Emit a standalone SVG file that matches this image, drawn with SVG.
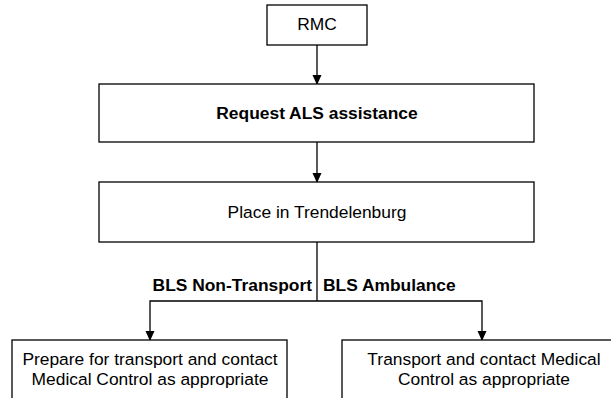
<svg xmlns="http://www.w3.org/2000/svg" width="611" height="398" viewBox="0 0 611 398">
<defs>
<marker id="arr" markerWidth="10" markerHeight="12" refX="10" refY="5" orient="auto" markerUnits="userSpaceOnUse" viewBox="0 0 11 10">
<path d="M0,0 L11,5 L0,10 Z" fill="#000"/>
</marker>
</defs>
<style>
.box{fill:#fff;stroke:#000;stroke-width:1.3}
.t{font-family:"Liberation Sans",Arial,sans-serif;font-size:17.4px;fill:#000;text-anchor:middle}
.b{font-weight:bold}
.c{fill:none;stroke:#000;stroke-width:1.3}
</style>
<rect width="611" height="398" fill="#fff"/>
<g id="connectors">
<line class="c" x1="317" y1="45" x2="317" y2="84" marker-end="url(#arr)"/>
<line class="c" x1="317" y1="142" x2="317" y2="182" marker-end="url(#arr)"/>
<line class="c" x1="317" y1="242" x2="317" y2="301"/>
<polyline class="c" points="317,301 150,301 150,340" marker-end="url(#arr)"/>
<polyline class="c" points="317,301 482,301 482,340" marker-end="url(#arr)"/>
<text class="t b" x="312" y="291" style="text-anchor:end">BLS Non-Transport</text>
<text class="t b" x="323" y="291" style="text-anchor:start">BLS Ambulance</text>
</g>
<g id="rmc">
<rect class="box" x="267" y="5" width="100" height="40"/>
<text class="t" x="317" y="30">RMC</text>
</g>
<g id="request">
<rect class="box" x="99" y="84" width="435" height="58"/>
<text class="t b" x="317" y="119">Request ALS assistance</text>
</g>
<g id="place">
<rect class="box" x="99" y="182" width="435" height="60"/>
<text class="t" x="317" y="218">Place in Trendelenburg</text>
</g>
<g id="prepare">
<rect class="box" x="12" y="340" width="275" height="70"/>
<text class="t" x="150" y="365">Prepare for transport and contact</text>
<text class="t" x="150" y="385">Medical Control as appropriate</text>
</g>
<g id="transport">
<rect class="box" x="342" y="340" width="285" height="70"/>
<text class="t" x="484" y="365">Transport and contact Medical</text>
<text class="t" x="484" y="385">Control as appropriate</text>
</g>
</svg>
